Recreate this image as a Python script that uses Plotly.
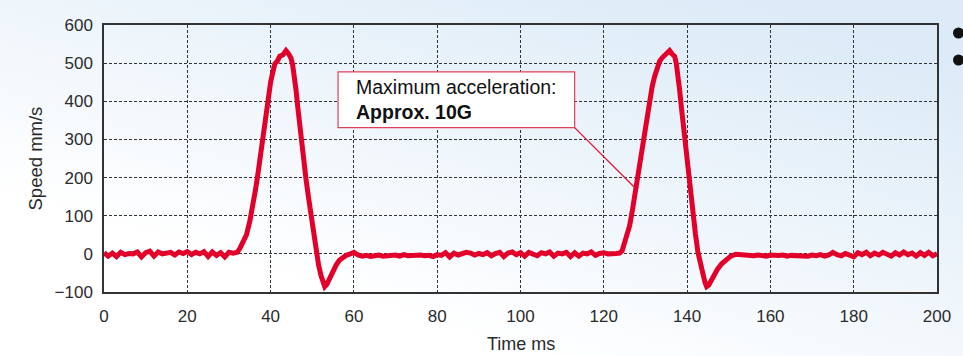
import base64
import plotly.graph_objects as go

# ---------------- data ----------------
# idle before first move (ms, mm/s)
t_idle1 = [0, 1, 2, 3, 4, 5, 6, 7, 8, 9, 10, 11, 12, 13, 14, 15, 16, 17, 18, 19,
           20, 21, 22, 23, 24, 25, 26, 27, 28, 29, 30, 31]
v_idle1 = [3, -6, 2, -7, 4, -2, 1, 0, 5, -8, 3, 7, -6, 5, 0, 2, 4, -3, 5, 1,
           6, -2, 4, 0, 6, -7, 5, -4, 3, -8, 4, 2]

# first move
t_move1 = [32.0, 32.6, 33.4, 34.2, 35.0, 35.8, 36.4, 37.0, 37.6, 38.2, 38.8, 39.4,
           40.0, 40.4, 41.0, 41.6, 42.2, 43.0, 43.7, 44.3, 44.9, 45.3, 45.7, 46.1,
           46.5, 46.9, 47.3, 47.9, 48.5, 49.1, 49.7, 50.3, 50.9, 51.5, 52.1, 52.6,
           53.0, 53.5, 54.0, 54.9, 55.7, 56.5, 57.3, 58.1, 59.0, 60.0]
v_move1 = [4, 14, 30, 50, 85, 126, 170, 213, 265, 318, 362, 405,
           450, 470, 498, 505, 518, 522, 533, 525, 513, 495, 470, 430,
           387, 345, 300, 248, 196, 148, 100, 52, 4, -28, -57, -75,
           -86, -80, -68, -48, -30, -17, -9, -4, -1, 4]

# idle between moves
t_idle2 = [61, 62, 63, 64, 65, 66, 67, 68, 69, 70, 71, 72, 73, 74, 75, 76, 77, 78, 79,
           80, 81, 82, 83, 84, 85, 86, 87, 88, 89, 90, 91, 92, 93, 94, 95, 96, 97, 98, 99,
           100, 101, 102, 103, 104, 105, 106, 107, 108, 109, 110, 111, 112, 113, 114, 115,
           116, 117, 118, 119, 120, 121, 122, 123]
v_idle2 = [-3, -6, -4, -7, -5, -3, -6, -4, -5, -3, -6, -2, -5, -4, -6, -3, -5, -4, -7,
           -2, -4, 3, -8, 2, -3, 0, 4, 2, -3, 1, -2, 3, -5, 1, 4, -7, 2, 5, -2,
           3, -6, 4, 1, -5, 3, 0, 5, -6, 2, 0, 4, -7, 3, -6, 2,
           0, 5, -4, 1, 3, 0, 2, 1]

# second move
t_move2 = [123.8, 124.4, 125.0, 125.6, 126.2, 126.8, 127.4, 128.0, 128.6, 129.2,
           129.8, 130.4, 131.0, 131.6, 132.2, 132.8, 133.4, 134.0, 134.6, 135.2,
           135.8, 136.4, 137.0, 137.4, 137.8, 138.2, 138.6, 139.0, 139.4, 139.8,
           140.2, 140.8, 141.4, 142.0, 142.6, 143.2, 143.8, 144.3, 144.7, 145.2,
           145.8, 146.5, 147.3, 148.3, 149.4, 150.5, 151.7, 153.0]
v_move2 = [2, 8, 30, 50, 74, 110, 152, 190, 230, 275,
           318, 362, 405, 438, 465, 488, 505, 514, 522, 527,
           533, 524, 518, 500, 474, 430, 387, 345, 300, 256,
           213, 156, 100, 52, 4, -28, -57, -75, -86, -82,
           -70, -55, -40, -26, -14, -6, -1, -3]

# idle after second move
t_idle3 = [154, 155, 156, 157, 158, 159, 160, 161, 162, 163, 164, 165, 166, 167, 168,
           169, 170, 171, 172, 173, 174, 175, 176, 177, 178, 179, 180, 181, 182, 183,
           184, 185, 186, 187, 188, 189, 190, 191, 192, 193, 194, 195, 196, 197, 198,
           199, 200]
v_idle3 = [-4, -3, -5, -3, -4, -6, -3, -5, -4, -3, -6, -4, -5, -3, -4,
           -6, -3, -5, -2, -6, -3, 4, -2, -5, 1, -3, -8, 3, -2, 4,
           -5, 2, -3, 4, 0, -6, 3, -3, 5, -2, 2, -6, 3, -4, 4,
           -5, 0]

x_ticks = [0, 20, 40, 60, 80, 100, 120, 140, 160, 180, 200]
y_ticks = [-100, 0, 100, 200, 300, 400, 500, 600]

note_line1 = "Maximum acceleration:"
note_line2 = "Approx. 10G"

time_ms = t_idle1 + t_move1 + t_idle2 + t_move2 + t_idle3
speed = v_idle1 + v_move1 + v_idle2 + v_move2 + v_idle3

# ---------------- styling ----------------
RED = "#E2002A"
TXT = "#2b2b2b"
FONT = "Liberation Sans, Arial, sans-serif"

W, H = 963, 356
ML, MR, MT, MB = 104, 26, 25, 64
PW, PH = W - ML - MR, H - MT - MB

svg = f'''<svg xmlns="http://www.w3.org/2000/svg" width="{W}" height="{H}" viewBox="0 0 {W} {H}" preserveAspectRatio="none">
<defs><linearGradient id="g" x1="0.42" y1="0.9" x2="1" y2="0.2">
<stop offset="0" stop-color="#ffffff"/><stop offset="1" stop-color="#dcebf7"/>
</linearGradient></defs>
<rect x="0" y="0" width="{W}" height="{H}" fill="url(#g)"/></svg>'''
bg_src = "data:image/svg+xml;base64," + base64.b64encode(svg.encode()).decode()

fig = go.Figure()
fig.add_trace(go.Scatter(
    x=time_ms, y=speed, mode="lines",
    line=dict(color=RED, width=5, shape="linear"),
    hoverinfo="skip", showlegend=False,
))

axis_common = dict(
    showline=True, mirror=True, linecolor="#333333", linewidth=1.5,
    showgrid=True, gridcolor="#333333", gridwidth=1, griddash="3px,2px",
    zeroline=False, ticks="", tickfont=dict(family=FONT, size=17, color=TXT),
)

fig.update_xaxes(range=[0, 200], tickvals=x_ticks, ticklabelstandoff=8, **axis_common)
fig.update_yaxes(range=[-100, 600], tickvals=y_ticks, ticklabelstandoff=6, **axis_common)

# annotation box and leader line
fig.add_shape(type="line", xref="x", yref="y", x0=113, y0=331, x1=127.4, y1=174,
              line=dict(color="#E2102F", width=1.3))
fig.add_shape(type="rect", xref="x", yref="y", x0=56.2, y0=331, x1=113, y1=477,
              line=dict(color="#E0405A", width=1.2), fillcolor="white")
fig.add_annotation(
    xref="x", yref="y", x=60.0, y=404, xanchor="left", yanchor="middle",
    text=f"{note_line1}<br><b>{note_line2}</b>", align="left", showarrow=False,
    font=dict(family=FONT, size=19.5, color="#111111"),
)

# axis titles
fig.add_annotation(xref="paper", yref="paper", x=(35 - ML) / PW, y=0.5,
                   text="Speed mm/s", textangle=-90, showarrow=False,
                   xanchor="center", yanchor="middle",
                   font=dict(family=FONT, size=18.5, color=TXT))
fig.add_annotation(xref="paper", yref="paper", x=0.5, y=-(343.5 - (MT + PH)) / PH,
                   text="Time ms", showarrow=False, xanchor="center", yanchor="middle",
                   font=dict(family=FONT, size=18, color=TXT))

# cut-off list bullets at the right edge (decorative dots)
for by in (33, 60):
    fig.add_shape(type="circle", xref="paper", yref="paper",
                  x0=(953 - ML) / PW, x1=(964 - ML) / PW,
                  y0=(MT + PH - by - 5.5) / PH, y1=(MT + PH - by + 5.5) / PH,
                  line=dict(width=0), fillcolor="#111111")

fig.add_layout_image(dict(
    source=bg_src, xref="paper", yref="paper",
    x=-ML / PW, y=(PH + MT) / PH, sizex=W / PW, sizey=H / PH,
    xanchor="left", yanchor="top", sizing="stretch", layer="below",
))

fig.update_layout(
    width=W, height=H,
    margin=dict(l=ML, r=MR, t=MT, b=MB, pad=0),
    paper_bgcolor="white", plot_bgcolor="#EDEDE7",
    font=dict(family=FONT, color=TXT),
    showlegend=False,
)

fig.write_html("out.html", config={"displayModeBar": False})
